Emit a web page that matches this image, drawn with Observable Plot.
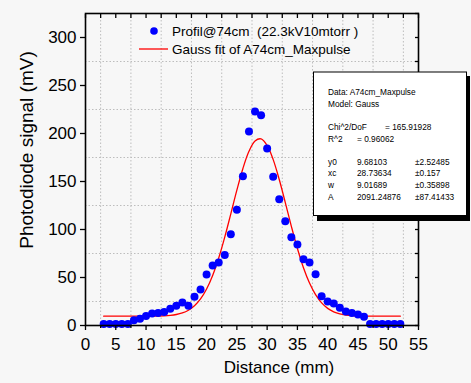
<!DOCTYPE html>
<html><head><meta charset="utf-8">
<script src="https://cdn.jsdelivr.net/npm/d3@7"></script>
<script src="https://cdn.jsdelivr.net/npm/@observablehq/plot@0.6"></script>
<style>
html,body{margin:0;padding:0;background:#f7f7f7;}
#chart{width:471px;height:383px;position:relative;}
svg{display:block;}
</style></head><body><div id="chart"></div>
<script>
// ---- data ----
const distance = [3,4,5,6,7,8,9,10,11,12,13,14,15,16,17,18,19,20,21,22,23,24,25,26,27,28,29,30,31,32,33,34,35,36,37,38,39,40,41,42,43,44,45,46,47,48,49,50,51,52];
const signal = [1.5,1.5,1.5,1.5,1.5,5.5,7,10,12.5,13,14,17.5,20.5,24,20.5,30,37.5,53,62.5,65.5,73.5,95,120.5,155.5,202,223,219,184.5,155,131.5,108.5,92,84.5,69,65.5,53.5,30.5,25,23,18.5,14.5,13,11.5,9,1.5,1.5,1.5,1.5,1.5,1.5];
const fitDistance = [3,4,5,6,7,8,9,10,11,12,13,14,15,16,17,18,19,20,21,22,23,24,25,26,27,28,29,30,31,32,33,34,35,36,37,38,39,40,41,42,43,44,45,46,47,48,49,50,51,52];
const fitSignal = [9.68,9.68,9.68,9.68,9.68,9.68,9.69,9.71,9.76,9.87,10.1,10.57,11.46,13.1,15.93,20.54,27.66,37.99,52.15,70.31,92.06,116.3,140.96,163.6,181.5,192.3,194.4,187.6,172.8,152.1,128.0,103.3,80.2,60.2,44.2,32.1,23.55,17.84,14.25,12.12,10.92,10.28,9.96,9.8,9.73,9.7,9.68,9.68,9.68,9.68];
const xTicks = [0,5,10,15,20,25,30,35,40,45,50,55];
const xMinorTicks = [2.5,7.5,12.5,17.5,22.5,27.5,32.5,37.5,42.5,47.5,52.5];
const xTopTicks = [0,2.5,5,7.5,10,12.5,15,17.5,20,22.5,25,27.5,30,32.5,35,37.5,40,42.5,45,47.5,50,52.5,55];
const yTicks = [0,50,100,150,200,250,300];
const yGrid = [25,75,125,175,225,275];
const yRightTicks = [0,25,50,75,100,125,150,175,200,225,250,275,300,325];
const xLabel = "Distance (mm)";
const yLabel = "Photodiode signal (mV)";
const legendLabels = ["Profil@74cm  (22.3kV10mtorr )", "Gauss fit of A74cm_Maxpulse"];
const fitHeader = ["Data: A74cm_Maxpulse", "Model: Gauss"];
const fitStats = [["Chi^2/DoF", "= 165.91928"], ["R^2", "= 0.96062"]];
const fitParams = [["y0","9.68103","\u00b12.52485"],["xc","28.73634","\u00b10.157"],["w","9.01689","\u00b10.35898"],["A","2091.24876","\u00b187.41433"]];

const points = distance.map((d, i) => ({d, s: signal[i]}));
const fit = fitDistance.map((d, i) => ({d, s: fitSignal[i]}));
const font = "'Liberation Sans', Arial, sans-serif";
const blank = () => "";

const plot = Plot.plot({
  width: 471, height: 383,
  marginLeft: 85, marginRight: 53, marginTop: 13, marginBottom: 58,
  style: {background: "transparent", fontFamily: font, color: "#000", overflow: "visible"},
  x: {domain: [0, 55]},
  y: {domain: [0, 325]},
  marks: [
    Plot.gridX(xMinorTicks, {stroke: "#bdbdbd", strokeOpacity: 1, strokeDasharray: "1.5,2"}),
    Plot.gridY(yGrid, {stroke: "#bdbdbd", strokeOpacity: 1, strokeDasharray: "1.5,2"}),
    Plot.line(fit, {x: "d", y: "s", stroke: "#ff0000", strokeWidth: 1.3, curve: "catmull-rom"}),
    Plot.dot(points, {x: "d", y: "s", r: 4, fill: "#0000ff", stroke: null}),
    Plot.frame({stroke: "#000", strokeWidth: 1.6}),
    Plot.axisX({ticks: xTicks, tickSize: 5, tickPadding: 7, fontSize: 17, label: null, strokeWidth: 1.3}),
    Plot.axisX({ticks: xMinorTicks, tickSize: 3, tickFormat: blank, label: null, strokeWidth: 1.3}),
    Plot.axisX({anchor: "top", ticks: xTopTicks, tickSize: -4, tickFormat: blank, label: null, strokeWidth: 1.3}),
    Plot.axisY({ticks: yTicks, tickSize: 5, tickPadding: 4, fontSize: 17, label: null, strokeWidth: 1.3}),
    Plot.axisY({anchor: "right", ticks: yRightTicks, tickSize: -4, tickFormat: blank, label: null, strokeWidth: 1.3})
  ]
});
document.getElementById("chart").appendChild(plot);

const svg = d3.select(plot);
// axis titles
svg.append("text").attr("x", 279).attr("y", 373).attr("text-anchor", "middle")
  .attr("font-size", 17).attr("font-family", font).attr("fill", "#000").text(xLabel);
svg.append("text").attr("transform", "translate(33,150) rotate(-90)").attr("text-anchor", "middle")
  .attr("font-size", 19).attr("font-family", font).attr("fill", "#000").text(yLabel);

// legend
const lg = svg.append("g").attr("font-family", font).attr("font-size", 13.5).attr("fill", "#000").attr("text-anchor", "start");
lg.append("circle").attr("cx", 154).attr("cy", 31).attr("r", 3.8).attr("fill", "#0000ff");
lg.append("text").attr("x", 172).attr("y", 35.5).attr("text-anchor", "start").style("white-space", "pre").text(legendLabels[0]);
lg.append("line").attr("x1", 139).attr("x2", 168).attr("y1", 49).attr("y2", 49).attr("stroke", "#ff0000").attr("stroke-width", 1.3);
lg.append("text").attr("x", 172).attr("y", 54).attr("text-anchor", "start").style("white-space", "pre").text(legendLabels[1]);

// fit results box
const bx = svg.append("g").attr("font-family", font).attr("font-size", 8.3).attr("fill", "#000").attr("text-anchor", "start");
bx.append("rect").attr("x", 317).attr("y", 76).attr("width", 153).attr("height", 145).attr("fill", "#000");
bx.append("rect").attr("x", 313.5).attr("y", 72).attr("width", 153).attr("height", 143.5).attr("fill", "#fff").attr("stroke", "#000").attr("stroke-width", 1);
const t = (x, y, s) => bx.append("text").attr("x", x).attr("y", y).attr("text-anchor", "start").text(s);
fitHeader.forEach((s, i) => t(328, 95 + i * 12, s));
t(328, 130, fitStats[0][0]);
t(385, 130, fitStats[0][1]);
t(328, 142, fitStats[1][0]);
t(357, 142, fitStats[1][1]);
fitParams.forEach((row, i) => {
  const y = 164.5 + i * 11.7;
  t(328, y, row[0]);
  t(357, y, row[1]);
  t(415, y, row[2]);
});
</script></body></html>
